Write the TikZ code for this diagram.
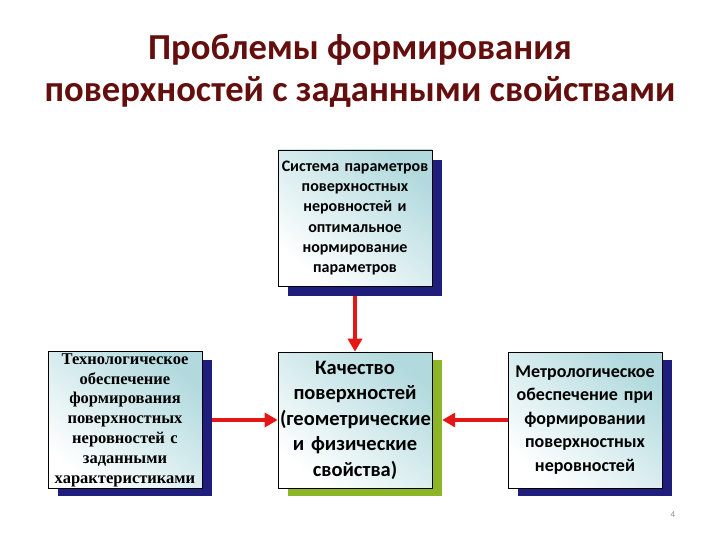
\documentclass[tikz,border=0pt]{standalone}
\usepackage{fontspec}
\setmainfont{Carlito}
\newfontfamily\serifb{Liberation Serif}
\usetikzlibrary{arrows.meta,calc}
\definecolor{titlered}{RGB}{100,14,14}
\definecolor{navy}{RGB}{32,30,125}
\definecolor{olive}{RGB}{140,182,40}
\definecolor{boxteal}{RGB}{178,218,222}
\definecolor{arrred}{RGB}{228,22,22}
\tikzset{
  box/.style={minimum width=154pt,minimum height=136pt,inner sep=2pt,
    align=center,text width=150pt,draw=black,line width=0.6pt,
    top color=boxteal,bottom color=white,shading angle=-40},
  shadowbox/.style={minimum width=154pt,minimum height=136pt,inner sep=0pt,fill=#1,draw=none},
  redarrow/.style={draw=arrred,line width=4pt,-{Triangle[length=13pt,width=14pt]}},
  titletext/.style={text=titlered,font=\fontsize{36.6}{42}\selectfont\bfseries,inner sep=0pt,anchor=base}
}
\begin{document}
\begin{tikzpicture}[x=1pt,y=-1pt]
\useasboundingbox (0,0) rectangle (720,540);
\fill[white] (0,0) rectangle (720,540);
\node[titletext] (title1) at (360,60) {Проблемы формирования};
\node[titletext] (title2) at (360,102) {поверхностей с заданными свойствами};
% shadows
\node[shadowbox=navy]  (sysS)  at (365,228) {};
\node[shadowbox=navy]  (techS) at (135,428) {};
\node[shadowbox=olive] (qualS) at (365,428) {};
\node[shadowbox=navy]  (metrS) at (595,428) {};
% boxes
\node[box,font=\fontsize{16}{20.2}\selectfont\bfseries] (sys) at (355,218)
 {Система параметров\\поверхностных\\неровностей\ и\\оптимальное\\нормирование\\параметров};
\node[box,font=\serifb\fontsize{16.5}{19.8}\selectfont\bfseries] (tech) at (125,420)
 {Технологическое\\обеспечение\\формирования\\поверхностных\\неровностей с\\заданными\\характеристиками};
\node[box,font=\fontsize{20.5}{25.5}\selectfont\bfseries] (qual) at (355,420)
 {Качество\\поверхностей\\(геометрические\\и физические\\свойства)};
\node[box,font=\fontsize{18}{23.5}\selectfont\bfseries] (metr) at (585,420)
 {Метрологическое\\обеспечение при\\формировании\\поверхностных\\неровностей};
% arrows
\draw[redarrow] (sys.south |- sysS.south) -- (qual.north);
\draw[redarrow] (techS.east |- qual.west) -- (qual.west);
\draw[redarrow] (metr.west) -- (qualS.east |- metr.west);
\node[text=black!45,font=\fontsize{9}{10}\selectfont] (pnum) at (673,515) {4};
\end{tikzpicture}
\end{document}
